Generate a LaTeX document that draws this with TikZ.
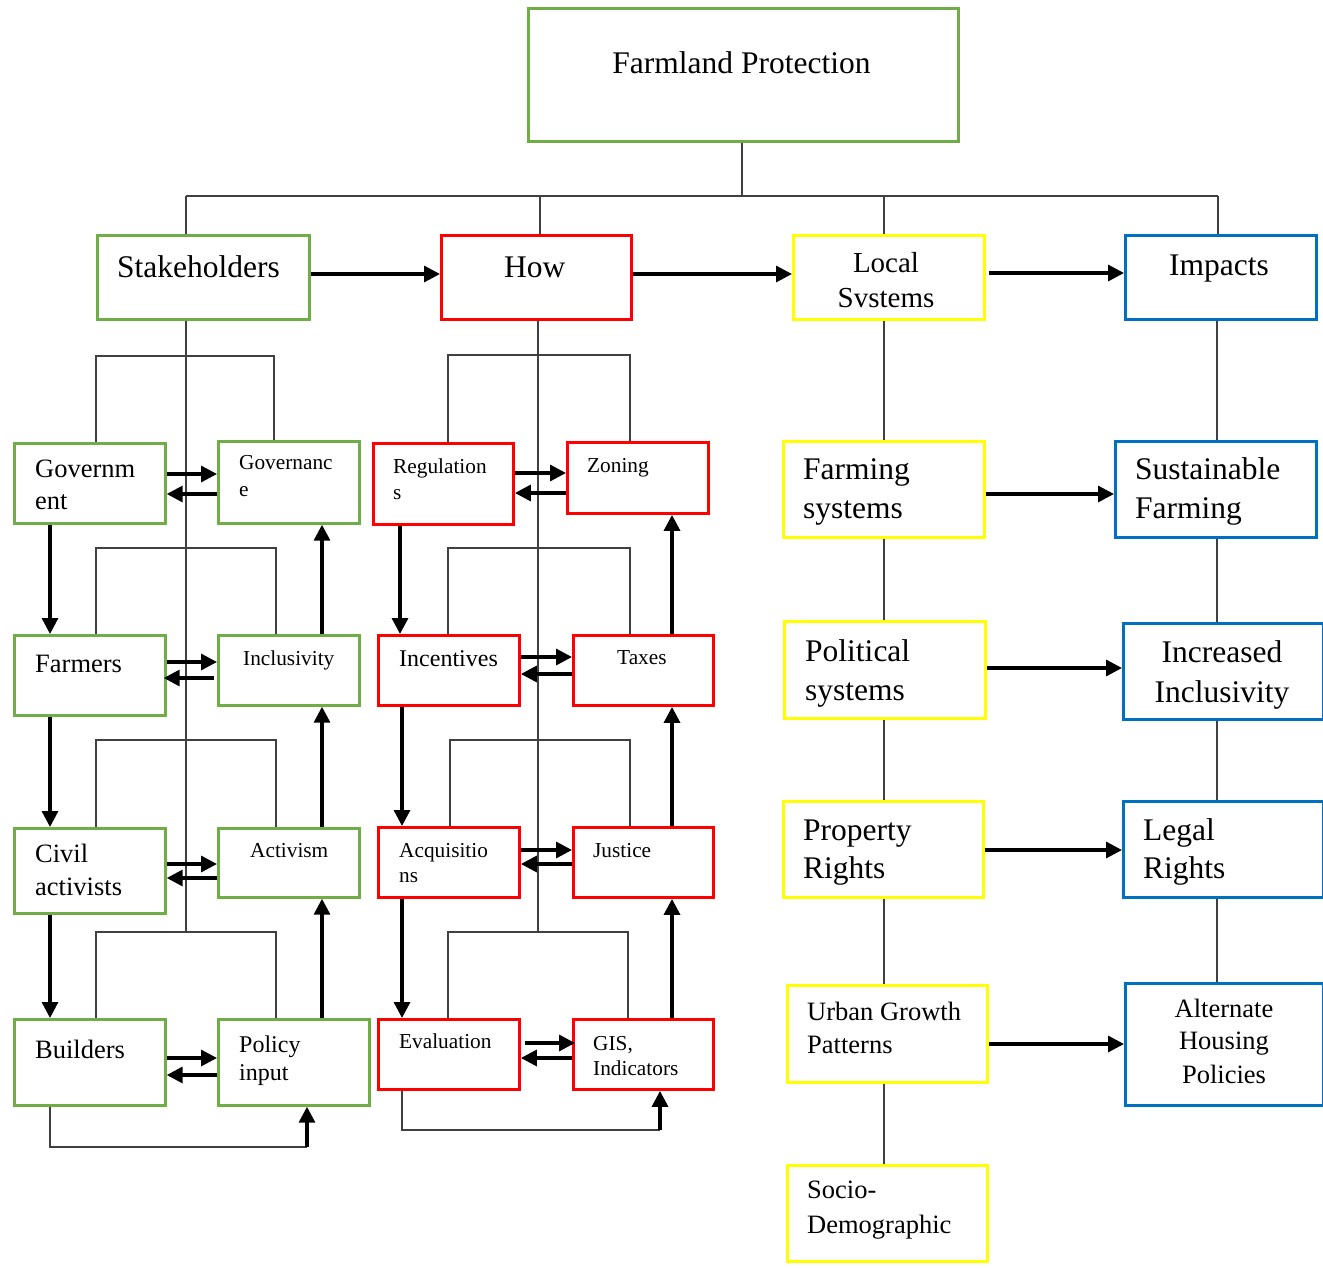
\documentclass[tikz,border=0pt]{standalone}
\usepackage{fontspec}
\setmainfont{Liberation Serif}
\usetikzlibrary{arrows.meta}

\definecolor{cgreen}{RGB}{112,173,71}
\definecolor{cred}{RGB}{255,0,0}
\definecolor{cyel}{RGB}{255,255,0}
\definecolor{cblue}{RGB}{0,112,192}
\definecolor{cline}{RGB}{64,64,64}

\newcommand\fbig{\fontsize{31.5}{38}\selectfont}
\newcommand\floc{\fontsize{29}{35}\selectfont}
\newcommand\fmed{\fontsize{26.5}{32}\selectfont}
\newcommand\fmid{\fontsize{24}{29}\selectfont}
\newcommand\fsml{\fontsize{21.3}{26}\selectfont}

\begin{document}
\begin{tikzpicture}[x=1pt,y=-1pt,
  box/.style={anchor=north west, inner sep=0pt, line width=2.7pt},
  gbox/.style={box, draw=cgreen},
  rbox/.style={box, draw=cred, line width=2.9pt},
  ybox/.style={box, draw=cyel, line width=2.6pt},
  bbox/.style={box, draw=cblue},
  lbl/.style={anchor=base west, inner sep=0pt},
  lblc/.style={anchor=base, inner sep=0pt},
  link/.style={draw=cline, line width=1.4pt},
  arr/.style={line width=3.3pt, -{Triangle[length=16pt,width=16pt]}}]

\fill[white] (0,0) rectangle (1323,1269);
\useasboundingbox (0,0) rectangle (1323,1269);

% ---------- boxes ----------
\node[gbox, minimum width=430, minimum height=133] (fp) at (527,7) {};
\node[gbox, minimum width=212, minimum height=84] (stk) at (96,234) {};
\node[rbox, minimum width=190, minimum height=84] (how) at (440,234) {};
\node[ybox, minimum width=191, minimum height=84] (loc) at (792,234) {};
\node[bbox, minimum width=191, minimum height=84] (imp) at (1124,234) {};

% stakeholders column
\node[gbox, minimum width=151, minimum height=80] (gov) at (13,442) {};
\node[gbox, minimum width=141, minimum height=82] (gvn) at (217,440) {};
\node[gbox, minimum width=151, minimum height=80] (frm) at (13,634) {};
\node[gbox, minimum width=141, minimum height=70] (inc) at (217,634) {};
\node[gbox, minimum width=151, minimum height=85] (civ) at (13,827) {};
\node[gbox, minimum width=141, minimum height=69] (act) at (217,827) {};
\node[gbox, minimum width=151, minimum height=86] (bld) at (13,1018) {};
\node[gbox, minimum width=151, minimum height=86] (pol) at (217,1018) {};

% how column
\node[rbox, minimum width=140, minimum height=81] (reg) at (372,442) {};
\node[rbox, minimum width=141, minimum height=71] (zon) at (566,441) {};
\node[rbox, minimum width=141, minimum height=70] (icv) at (377,634) {};
\node[rbox, minimum width=140, minimum height=70] (tax) at (572,634) {};
\node[rbox, minimum width=141, minimum height=70] (acq) at (377,826) {};
\node[rbox, minimum width=140, minimum height=70] (jus) at (572,826) {};
\node[rbox, minimum width=141, minimum height=70] (eva) at (377,1018) {};
\node[rbox, minimum width=140, minimum height=70] (gis) at (572,1018) {};

% local systems column
\node[ybox, minimum width=201, minimum height=96] (fsy) at (782,440) {};
\node[ybox, minimum width=201, minimum height=97] (psy) at (783,620) {};
\node[ybox, minimum width=200, minimum height=96] (prr) at (782,800) {};
\node[ybox, minimum width=200, minimum height=97] (ugp) at (786,984) {};
\node[ybox, minimum width=200, minimum height=96] (soc) at (786,1164) {};

% impacts column
\node[bbox, minimum width=201, minimum height=96] (sus) at (1114,440) {};
\node[bbox, minimum width=200, minimum height=96] (iin) at (1122,622) {};
\node[bbox, minimum width=200, minimum height=96] (lrt) at (1122,800) {};
\node[bbox, minimum width=198, minimum height=122] (ahp) at (1124,982) {};

% ---------- labels ----------
\node[lblc, font=\fbig] (tfp) at (741.5,73) {Farmland Protection};
\node[lbl, font=\fbig] (tstk) at (117,277) {Stakeholders};
\node[lbl, font=\fbig] (thow) at (504,277) {How};
\node[lblc, font=\floc] (tloc1) at (886,272) {Local};
\node[lblc, font=\floc] (tloc2) at (886,307) {Svstems};
\node[lblc, font=\fbig] (timp) at (1219,275) {Impacts};

\node[lbl, font=\fmed] (tgov1) at (35,477) {Governm};
\node[lbl, font=\fmed] (tgov2) at (35,509) {ent};
\node[lbl, font=\fsml] (tgvn1) at (239,469) {Governanc};
\node[lbl, font=\fsml] (tgvn2) at (239,496) {e};
\node[lbl, font=\fmed] (tfrm) at (35,672) {Farmers};
\node[lbl, font=\fsml] (tinc) at (243,665) {Inclusivity};
\node[lbl, font=\fmed] (tciv1) at (35,862) {Civil};
\node[lbl, font=\fmed] (tciv2) at (35,895) {activists};
\node[lbl, font=\fsml] (tact) at (250,857) {Activism};
\node[lbl, font=\fmed] (tbld) at (35,1058) {Builders};
\node[lbl, font=\fmid] (tpol1) at (239,1052) {Policy};
\node[lbl, font=\fmid] (tpol2) at (239,1080) {input};

\node[lbl, font=\fsml] (treg1) at (393,473) {Regulation};
\node[lbl, font=\fsml] (treg2) at (393,499) {s};
\node[lbl, font=\fsml] (tzon) at (587,472) {Zoning};
\node[lbl, font=\fmid] (ticv) at (399,666) {Incentives};
\node[lbl, font=\fsml] (ttax) at (617,664) {Taxes};
\node[lbl, font=\fsml] (tacq1) at (399,857) {Acquisitio};
\node[lbl, font=\fsml] (tacq2) at (399,882) {ns};
\node[lbl, font=\fsml] (tjus) at (593,857) {Justice};
\node[lbl, font=\fsml] (teva) at (399,1048) {Evaluation};
\node[lbl, font=\fsml] (tgis1) at (593,1050) {GIS,};
\node[lbl, font=\fsml] (tgis2) at (593,1075) {Indicators};

\node[lbl, font=\fbig] (tfsy1) at (803,479) {Farming};
\node[lbl, font=\fbig] (tfsy2) at (803,518) {systems};
\node[lbl, font=\fbig] (tpsy1) at (805,661) {Political};
\node[lbl, font=\fbig] (tpsy2) at (805,700) {systems};
\node[lbl, font=\fbig] (tprr1) at (803,840) {Property};
\node[lbl, font=\fbig] (tprr2) at (803,878) {Rights};
\node[lbl, font=\fmed] (tugp1) at (807,1020) {Urban Growth};
\node[lbl, font=\fmed] (tugp2) at (807,1053) {Patterns};
\node[lbl, font=\fmed] (tsoc1) at (807,1198) {Socio-};
\node[lbl, font=\fmed] (tsoc2) at (807,1233) {Demographic};

\node[lbl, font=\fbig] (tsus1) at (1135,479) {Sustainable};
\node[lbl, font=\fbig] (tsus2) at (1135,518) {Farming};
\node[lblc, font=\fbig] (tiin1) at (1222,662) {Increased};
\node[lblc, font=\fbig] (tiin2) at (1222,702) {Inclusivity};
\node[lbl, font=\fbig] (tlrt1) at (1143,840) {Legal};
\node[lbl, font=\fbig] (tlrt2) at (1143,878) {Rights};
\node[lblc, font=\fmed] (tahp1) at (1224,1017) {Alternate};
\node[lblc, font=\fmed] (tahp2) at (1224,1049) {Housing};
\node[lblc, font=\fmed] (tahp3) at (1224,1083) {Policies};

% ---------- tree from the top box ----------
\coordinate (hub) at (742,196);
\coordinate (tl) at (186,196);
\coordinate (tr) at (1218,196);
\draw[link] (fp.south -| hub) -- (hub);
\draw[link] (tl) -- (tr);
\draw[link] (tl) -- (stk.north -| tl);
\draw[link] (540,196) -- (how.north -| 540,0);
\draw[link] (884,196) -- (loc.north -| 884,0);
\draw[link] (tr) -- (imp.north -| tr);

% ---------- top-row arrows ----------
\draw[arr] (stk.east |- 0,274) -- (how.west |- 0,274);
\draw[arr] (how.east |- 0,274) -- (loc.west |- 0,274);
\draw[arr] ([xshift=3pt]loc.east |- 0,273) -- (imp.west |- 0,273);

% ---------- stakeholders column ----------
\coordinate (sj) at (186,932);
\draw[link] (stk.south -| sj) -- (sj);
\draw[link] (gov.north -| 96,0) |- (274,356) -- (gvn.north -| 274,0);
\draw[link] (frm.north -| 96,0) |- (276,548) -- (inc.north -| 276,0);
\draw[link] (civ.north -| 96,0) |- (276,740) -- (act.north -| 276,0);
\draw[link] (bld.north -| 96,0) |- (276,932) -- (pol.north -| 276,0);

\draw[arr] (gov.east |- 0,474) -- (gvn.west |- 0,474);
\draw[arr] (gvn.west |- 0,494) -- (gov.east |- 0,494);
\draw[arr] (frm.east |- 0,662) -- (inc.west |- 0,662);
\draw[arr] ([xshift=-3pt]inc.west |- 0,678) -- ([xshift=-3pt]frm.east |- 0,678);
\draw[arr] (civ.east |- 0,864) -- (act.west |- 0,864);
\draw[arr] (act.west |- 0,878) -- (civ.east |- 0,878);
\draw[arr] (bld.east |- 0,1058) -- (pol.west |- 0,1058);
\draw[arr] (pol.west |- 0,1075) -- (bld.east |- 0,1075);

\draw[arr] (gov.south -| 50,0) -- (frm.north -| 50,0);
\draw[arr] (frm.south -| 50,0) -- (civ.north -| 50,0);
\draw[arr] (civ.south -| 50,0) -- (bld.north -| 50,0);
\draw[arr] (inc.north -| 322,0) -- (gvn.south -| 322,0);
\draw[arr] (act.north -| 322,0) -- (inc.south -| 322,0);
\draw[arr] (pol.north -| 322,0) -- (act.south -| 322,0);

\coordinate (bl) at (307,1147);
\draw[link] (bld.south -| 50,0) |- (bl);
\draw[arr] (bl) -- (pol.south -| bl);

% ---------- how column ----------
\coordinate (hj) at (538,932);
\draw[link] (how.south -| hj) -- (hj);
\draw[link] (reg.north -| 448,0) |- (630,355) -- (zon.north -| 630,0);
\draw[link] (icv.north -| 448,0) |- (630,548) -- (tax.north -| 630,0);
\draw[link] (acq.north -| 450,0) |- (630,740) -- (jus.north -| 630,0);
\draw[link] (eva.north -| 448,0) |- (628,932) -- (gis.north -| 628,0);

\draw[arr] (reg.east |- 0,473) -- (zon.west |- 0,473);
\draw[arr] (zon.west |- 0,493) -- (reg.east |- 0,493);
\draw[arr] (icv.east |- 0,657) -- (tax.west |- 0,657);
\draw[arr] (tax.west |- 0,674) -- (icv.east |- 0,674);
\draw[arr] (acq.east |- 0,850) -- (jus.west |- 0,850);
\draw[arr] (jus.west |- 0,864) -- (acq.east |- 0,864);
\draw[arr] ([xshift=4pt]eva.east |- 0,1043) -- ([xshift=3pt]gis.west |- 0,1043);
\draw[arr] (gis.west |- 0,1058) -- (eva.east |- 0,1058);

\draw[arr] (reg.south -| 400,0) -- (icv.north -| 400,0);
\draw[arr] (icv.south -| 402,0) -- (acq.north -| 402,0);
\draw[arr] (acq.south -| 402,0) -- (eva.north -| 402,0);
\draw[arr] (tax.north -| 672,0) -- (zon.south -| 672,0);
\draw[arr] (jus.north -| 672,0) -- (tax.south -| 672,0);
\draw[arr] (gis.north -| 672,0) -- (jus.south -| 672,0);

\coordinate (el) at (660,1130);
\draw[link] (eva.south -| 402,0) |- (el);
\draw[arr] (el) -- (gis.south -| el);

% ---------- local systems and impacts columns ----------
\draw[link] (loc.south -| 884,0) -- (fsy.north -| 884,0);
\draw[link] (fsy.south -| 884,0) -- (psy.north -| 884,0);
\draw[link] (psy.south -| 884,0) -- (prr.north -| 884,0);
\draw[link] (prr.south -| 884,0) -- (ugp.north -| 884,0);
\draw[link] (ugp.south -| 884,0) -- (soc.north -| 884,0);

\draw[link] (imp.south -| 1217,0) -- (sus.north -| 1217,0);
\draw[link] (sus.south -| 1217,0) -- (iin.north -| 1217,0);
\draw[link] (iin.south -| 1217,0) -- (lrt.north -| 1217,0);
\draw[link] (lrt.south -| 1217,0) -- (ahp.north -| 1217,0);

\draw[arr] (fsy.east |- 0,494) -- (sus.west |- 0,494);
\draw[arr] (psy.east |- 0,668) -- (iin.west |- 0,668);
\draw[arr] (prr.east |- 0,850) -- (lrt.west |- 0,850);
\draw[arr] (ugp.east |- 0,1044) -- (ahp.west |- 0,1044);

\end{tikzpicture}
\end{document}
